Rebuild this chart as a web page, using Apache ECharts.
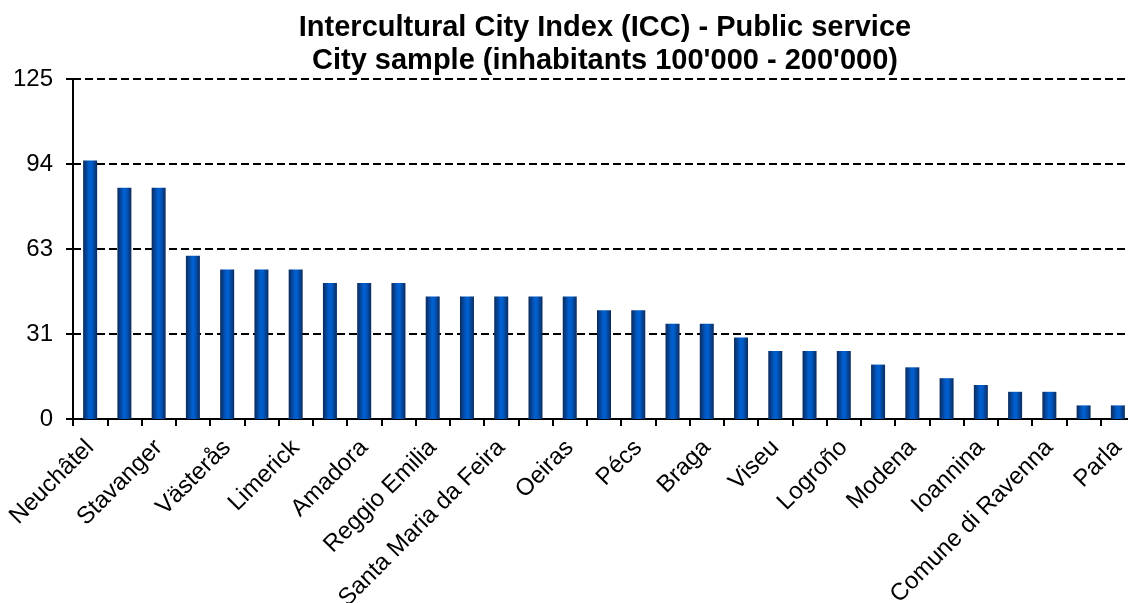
<!DOCTYPE html>
<html>
<head>
<meta charset="utf-8">
<script src="https://cdn.jsdelivr.net/npm/echarts@6/dist/echarts.min.js"></script>
<style>
  html, body { margin: 0; padding: 0; background: #fff; }
  #chart { width: 1128px; height: 603px; }
</style>
</head>
<body>
<div id="chart"></div>
<script>
// Cities named on the axis (every second bar carries a label)
const labelledCities = [
  'Neuchâtel', 'Stavanger', 'Västerås', 'Limerick', 'Amadora',
  'Reggio Emilia', 'Santa Maria da Feira', 'Oeiras', 'Pécs', 'Braga',
  'Viseu', 'Logroño', 'Modena', 'Ioannina', 'Comune di Ravenna', 'Parla'
];

// Public service score for each of the 31 cities, in ranked order
const scores = [
  95, 85, 85, 60, 55, 55, 55, 50, 50, 50,
  45, 45, 45, 45, 45, 40, 40, 35, 35, 30,
  25, 25, 25, 20, 19, 15, 12.5, 10, 10, 5, 5
];

// Value axis range and step
const yMin = 0;
const yMax = 125;
const yStep = 31.25;

const titleLines = [
  'Intercultural City Index (ICC) - Public service',
  "City sample (inhabitants 100'000 - 200'000)"
];

// Category list: labelled cities sit on even positions, the others stay unnamed
const categories = scores.map((_, i) => (i % 2 === 0 ? (labelledCities[i / 2] || '') : ''));

const font = '"Liberation Sans", Arial, sans-serif';

const chart = echarts.init(document.getElementById('chart'), null, { renderer: 'canvas' });

chart.setOption({
  animation: false,
  backgroundColor: '#ffffff',
  title: {
    text: titleLines.join('\n'),
    left: 605,
    top: 11,
    padding: 0,
    textAlign: 'center',
    textStyle: {
      fontFamily: font,
      fontSize: 29,
      fontWeight: 'bold',
      color: '#000',
      lineHeight: 33
    }
  },
  grid: {
    left: 73,
    right: -7,
    top: 79,
    bottom: 184,
    containLabel: false,
    outerBoundsMode: 'none'
  },
  xAxis: {
    type: 'category',
    data: categories,
    boundaryGap: true,
    axisLine: { show: true, lineStyle: { color: '#000', width: 2 } },
    axisTick: { show: true, interval: 0, length: 7, lineStyle: { color: '#000', width: 2 } },
    axisLabel: {
      interval: 0,
      rotate: 45,
      margin: 25,
      fontFamily: font,
      fontSize: 24,
      color: '#000'
    },
    splitLine: { show: false }
  },
  yAxis: {
    type: 'value',
    min: yMin,
    max: yMax,
    interval: yStep,
    axisLine: { show: true, lineStyle: { color: '#000', width: 2 } },
    axisTick: { show: true, length: 7, lineStyle: { color: '#000', width: 2 } },
    axisLabel: {
      margin: 20,
      fontFamily: font,
      fontSize: 24,
      color: '#000',
      formatter: v => String(Math.round(v))
    },
    splitLine: {
      show: true,
      lineStyle: { color: '#000', width: 2, type: [8, 4] }
    }
  },
  series: [{
    type: 'bar',
    data: scores,
    barWidth: 14,
    itemStyle: {
      color: new echarts.graphic.LinearGradient(0, 0, 1, 0, [
        { offset: 0, color: '#0b2a5c' },
        { offset: 0.45, color: '#005fd0' },
        { offset: 0.6, color: '#005ecc' },
        { offset: 1, color: '#0c2b5e' }
      ])
    }
  }]
});
</script>
</body>
</html>
